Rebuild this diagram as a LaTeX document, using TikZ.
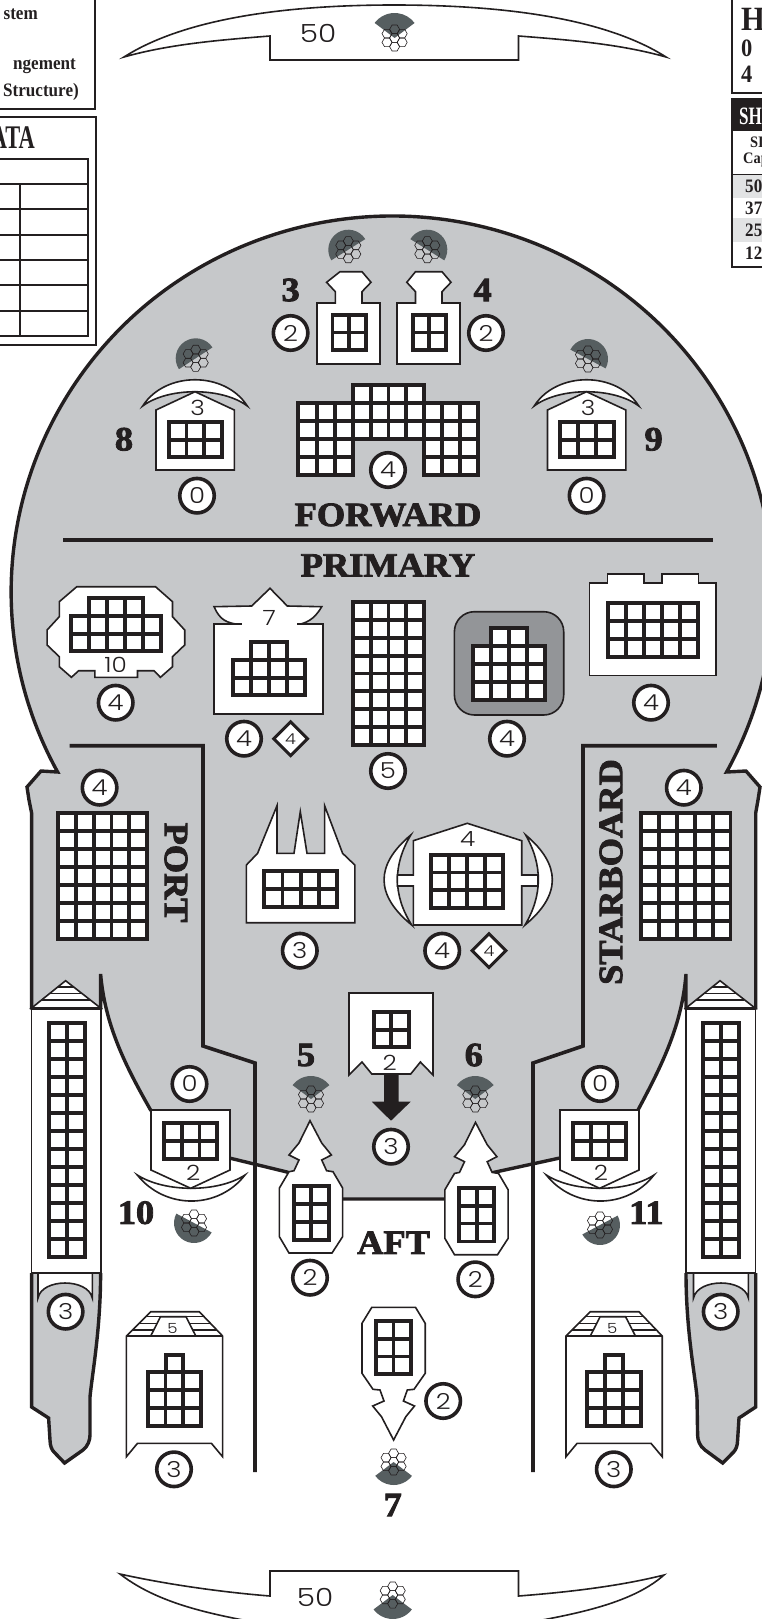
\documentclass[tikz,border=0pt]{standalone}
\usepackage{fontspec}
\usepackage{tikz}
\usetikzlibrary{arrows.meta,shapes.geometric,positioning,calc}
\newfontfamily\heavyfont[FakeStretch=1.07,BoldFeatures={FakeBold=2.5}]{Liberation Serif}
\newfontfamily\slabfont[FakeStretch=0.9]{Liberation Serif}
\newfontfamily\narrowfont[FakeStretch=0.68]{Liberation Serif}
\newfontfamily\digitfont[FakeStretch=1.18,UprightFont=* Light]{Poppins}
\definecolor{ink}{HTML}{231F20}
\definecolor{hullgray}{HTML}{C6C8CA}
\definecolor{arcgray}{HTML}{565E60}
\definecolor{bridgegray}{HTML}{939598}
\tikzset{
  hull/.style={draw=ink,line width=3.4pt,fill=hullgray,line join=miter},
  wall/.style={draw=ink,line width=3.6pt},
  plate/.style={draw=ink,line width=1.6pt,fill=white,line join=miter},
  cell/.style={draw=ink,line width=3.9pt,fill=white},
  frame/.style={draw=ink,line width=2.6pt},
  badge/.style={circle,draw=ink,line width=3.6pt,fill=white,minimum size=34.5pt,inner sep=0pt,
    font=\digitfont\fontsize{22}{22}\selectfont,text=ink},
  armor/.style={diamond,draw=ink,line width=3pt,fill=white,minimum size=35pt,inner sep=0pt,
    font=\digitfont\fontsize{15}{15}\selectfont,text=ink},
  plabel/.style={font=\digitfont\fontsize{21}{21}\selectfont,text=ink,inner sep=0pt},
  bignum/.style={font=\heavyfont\bfseries\fontsize{34}{34}\selectfont,text=ink,inner sep=0pt},
  secname/.style={font=\heavyfont\bfseries\fontsize{34}{34}\selectfont,text=ink,inner sep=0pt},
  sheet/.style={font=\slabfont\bfseries\fontsize{19}{19}\selectfont,text=ink,inner sep=0pt}
}
% left, top, right, bottom (outer edges), columns, rows
\newcommand{\boxgrid}[6]{%
  \pgfmathsetmacro{\gl}{#1}%
  \pgfmathsetmacro{\gt}{#2}%
  \pgfmathsetmacro{\gw}{((#3)-(#1)-3.9)/#5}%
  \pgfmathsetmacro{\gh}{((#4)-(#2)-3.9)/#6}%
  \foreach \c in {1,...,#5} \foreach \r in {1,...,#6} {
    \draw[cell] ({\gl+1.95+(\c-1)*\gw},{\gt+1.95+(\r-1)*\gh}) rectangle ++(\gw,\gh);
  }
}
% centre x, centre y, middle angle, half width, radius
\newcommand{\firearc}[5]{%
  \fill[arcgray] (#1,#2) -- ++({#3-#4}:#5) arc[start angle={#3-#4},end angle={#3+#4},radius=#5] -- cycle;
  \foreach \dx/\dy in {0/0,0/-8.7,0/8.7,7.6/-4.35,7.6/4.35,-7.6/-4.35,-7.6/4.35} {
    \draw[ink,line width=0.6pt,shift={(#1+\dx,#2+\dy)}] (0:5) -- (60:5) -- (120:5) -- (180:5) -- (240:5) -- (300:5) -- cycle;
  }
}
\begin{document}
\begin{tikzpicture}[x=1pt,y=-1pt]
\useasboundingbox (0,0) rectangle (762,1619);
\clip (0,0) rectangle (762,1619);
% Record sheet edges
\draw[frame] (-5,-5) rectangle (95,109);
\draw[frame] (-5,117) rectangle (96,345);
\node[sheet,anchor=east] (sysa) at (38,14) {stem};
\node[sheet,anchor=east] (sysb) at (76,66) {ngement};
\node[sheet,anchor=east] (sysc) at (79,92) {Structure)};
\node[sheet,anchor=east,font=\narrowfont\bfseries\fontsize{33}{33}\selectfont] (data) at (35,138) {ATA};
\draw[ink,line width=2.4pt] (-5,159) -- (88,159) -- (88,336) -- (-5,336);
\foreach \y in {184,209,235,260,285,311} {
  \draw[ink,line width=2.4pt] (-5,\y) -- (88,\y);
}
\draw[ink,line width=2.4pt] (20,184) -- (20,336);
\fill[hullgray!50] (733,174) rectangle (770,198);
\fill[hullgray!50] (733,218) rectangle (770,242);
\draw[frame] (732,-5) -- (732,93) -- (770,93);
\draw[frame] (732,99) rectangle (770,267);
\fill[ink] (732,99) rectangle (770,131);
\draw[ink,line width=1pt] (732,174) -- (770,174);
\node[sheet,anchor=west,font=\slabfont\bfseries\fontsize{34}{34}\selectfont] (hname) at (741,19) {H};
\node[sheet,anchor=west,font=\slabfont\bfseries\fontsize{25}{25}\selectfont] (hzero) at (741,48) {0};
\node[sheet,anchor=west,font=\slabfont\bfseries\fontsize{25}{25}\selectfont] (hfour) at (741,74) {4};
\node[sheet,anchor=west,text=white,font=\narrowfont\bfseries\fontsize{25}{25}\selectfont] (shd) at (739,116) {SH};
\node[sheet,anchor=west,font=\slabfont\bfseries\fontsize{16}{16}\selectfont] (shs) at (750,142) {SI};
\node[sheet,anchor=west,font=\slabfont\bfseries\fontsize{16}{16}\selectfont] (shc) at (743,160) {Cap};
\foreach \n/\y in {50/186,37/208,25/230,12/253} {
  \node[sheet,anchor=west] (row\n) at (745,\y) {\n};
}
% Top and bottom bars
\draw[plate] (124,57) .. controls (190,15) and (300,5) .. (394,5) .. controls (490,5) and (600,15) .. (666,57)
  .. controls (620,44) and (570,40) .. (518.5,36) -- (518.5,60) -- (270,60) -- (270,36) .. controls (220,40) and (170,44) .. (124,57) -- cycle;
\node[plabel,font=\digitfont\fontsize{25}{25}\selectfont] (foretxt) at (318,33) {50};
\firearc{394.6}{38}{-90}{53}{25}
\draw[plate] (120,1574) .. controls (165,1584) and (220,1592) .. (270,1596) -- (270,1571) -- (518.5,1571) -- (518.5,1596)
  .. controls (570,1592) and (620,1586) .. (664,1575) .. controls (630,1605) and (570,1615) .. (515,1625)
  -- (270,1625) .. controls (215,1615) and (160,1605) .. (120,1574) -- cycle;
\node[plabel,font=\digitfont\fontsize{25}{25}\selectfont] (afttxt) at (315,1597) {50};
\firearc{392.7}{1595}{90}{53}{24}
% Hull
\draw[hull] (41,771) -- (27,787) -- (29,800) -- (31.6,813) -- (31.6,1008) -- (100.6,1008) -- (100.6,974)
  .. controls (105,1025) and (125,1065) .. (150.6,1110) -- (229.4,1158) -- (287,1172) -- (342.6,1199) -- (444.7,1199)
  -- (492.3,1172.7) -- (559.8,1158) -- (638,1110) .. controls (662,1065) and (682,1025) .. (686,974)
  -- (686,1008) -- (755.7,1008) -- (755.7,813) -- (758,800) -- (760,787) -- (746,771) -- (726.6,772)
  arc[start angle=28.6,end angle=-208.6,x radius=381,y radius=376] -- cycle;
% Section walls
\draw[wall] (63,540) -- (713,540);
\draw[wall] (69.5,745.7) -- (203,745.7) -- (203,1046) -- (255,1063) -- (255,1472);
\draw[wall] (716.8,745.7) -- (583,745.7) -- (583,1046) -- (533,1063) -- (533,1472);
% Nacelle tails
\draw[hull] (31.6,1273) -- (31.6,1407) -- (48.6,1418) -- (50,1440) .. controls (50,1446) and (52,1450) .. (54,1452)
  -- (64.6,1463) -- (83,1450) .. controls (88,1446) and (90,1440) .. (90,1435) -- (90,1397) .. controls (92,1375) and (100.6,1330) .. (100.6,1273);
\draw[hull] (755.7,1273) -- (755.7,1407) -- (739,1418) -- (737.6,1440) .. controls (737.6,1446) and (735.6,1450) .. (733.6,1452)
  -- (722.7,1463) -- (705,1450) .. controls (699.6,1446) and (697.6,1440) .. (697.6,1435) -- (697,1397) .. controls (695,1375) and (686,1330) .. (686,1273);
\draw[plate] (38,1272) -- (38,1298) .. controls (42,1278) and (88,1278) .. (92.3,1298) -- (92.3,1272);
\draw[plate] (693.5,1272) -- (693.5,1298) .. controls (698,1278) and (744,1278) .. (748.4,1298) -- (748.4,1272);
% Nacelles
\foreach \nx/\gx in {31.6/47,686/701.3} {
  \begin{scope}[shift={(\nx,0)}]
    \draw[plate] (0,1008) -- (34,980.7) -- (69,1008) -- cycle;
    \draw[ink,line width=1.2pt] (26,987) -- (42,987) (18,993.5) -- (50,993.5) (10,1000) -- (58,1000);
    \draw[plate] (0,1008.5) rectangle (69.4,1273);
    \draw[ink,line width=2.4pt] (0,1008.5) -- (69.4,1008.5);
  \end{scope}
  \boxgrid{\gx}{1021}{\gx+39.5}{1259}{2}{13}
}
% Forward section
\firearc{348.3}{249.7}{-122}{90}{20}
\firearc{427.3}{249.7}{-58}{90}{20}
\draw[plate] (317,303) -- (335.3,303) -- (335.3,291.7) -- (326.6,282.3) -- (340,271.7) -- (362,271.7) -- (371,282.3) -- (362,291.7) -- (362,303) -- (380,303) -- (380,364) -- (317,364) -- cycle;
\draw[plate] (397,303) -- (415.5,303) -- (415.5,291.7) -- (406.8,282.3) -- (415.5,271.7) -- (442,271.7) -- (451,282.3) -- (442,291.7) -- (442,303) -- (460,303) -- (460,364) -- (397,364) -- cycle;
\boxgrid{330.5}{313}{368}{352}{2}{2}
\boxgrid{410.7}{313}{448}{352}{2}{2}
\boxgrid{296.4}{400.7}{354.9}{476.7}{3}{4}
\boxgrid{422.1}{400.7}{480}{476.7}{3}{4}
\boxgrid{351}{383.3}{426}{440.65}{4}{3}
\firearc{195.7}{358.3}{-123}{90}{20}
\firearc{588}{359}{-62}{90}{20}
\foreach \dx in {0,391.5} {
  \begin{scope}[shift={(\dx,0)}]
    \draw[plate] (142.7,406) .. controls (165,371) and (225,371) .. (247.3,406) .. controls (222,387) and (168,387) .. (142.7,406) -- cycle;
    \draw[plate] (156,410) -- (195,391.7) -- (234.3,410) -- (234.3,470) -- (156,470) -- cycle;
  \end{scope}
  \boxgrid{166.7+\dx}{420}{224+\dx}{459.3}{3}{2}
}
\node[plabel] (fwd8) at (197.7,407.5) {3};
\node[plabel] (fwd9) at (588,407.5) {3};
% Primary section
\draw[plate] (76.8,586.7) -- (155.5,586.7) -- (172.5,601.7) -- (172.5,616.7) -- (184.7,630) -- (184.7,645) -- (172.5,656.7) -- (172.5,666.7) -- (160.4,677.3) -- (154,670.7) -- (137.5,670.7) -- (137.5,677.3) -- (94.8,677.3) -- (94.8,670.7) -- (78.7,670.7) -- (71.4,677.3) -- (59.3,666.7) -- (59.3,656.7) -- (47.1,645) -- (47.1,630) -- (59.3,616.7) -- (59.3,601.7) -- cycle;
\boxgrid{87}{595.7}{144.9}{617.9}{3}{1}
\boxgrid{69}{614}{162.8}{653.3}{5}{2}
\node[plabel] (pri10) at (115.7,665) {10};
\draw[plate] (214,606.7) -- (251.7,606) -- (270,588.3) -- (287.3,606) -- (321.7,606.7) .. controls (314,620) and (306,623) .. (296.7,625) -- (241.7,625) .. controls (226,623) and (220,620) .. (214,606.7) -- cycle;
\fill[white] (214,624) rectangle (322.7,714);
\draw[plate] (241.7,624) -- (214,624) -- (214,714) -- (322.7,714) -- (322.7,624) -- (296.7,624);
\node[plabel] (pri7) at (269.3,617.5) {7};
\boxgrid{248.75}{640}{288.65}{662.2}{2}{1}
\boxgrid{230.7}{658.3}{306.7}{697.3}{4}{2}
\boxgrid{351}{600}{426}{747}{4}{8}
\draw[plate,fill=bridgegray,rounded corners=20pt] (454.4,611.7) rectangle (563.7,715);
\boxgrid{489.25}{626}{528.85}{648.2}{2}{1}
\boxgrid{471.4}{644.3}{546.7}{701.7}{4}{3}
\draw[plate] (589.5,582.7) -- (607.5,582.7) -- (607.5,573.7) -- (643.9,573.7) -- (643.9,583) -- (661.9,583) -- (661.9,573.7) -- (698.4,573.7) -- (698.4,582.7) -- (715.8,582.7) -- (715.8,675.3) -- (589.5,675.3) -- cycle;
\boxgrid{606}{601}{699.8}{659}{5}{3}
% Port and starboard arrays
\boxgrid{55.9}{811}{149.2}{940.7}{5}{7}
\boxgrid{639}{811}{732.4}{940.7}{5}{7}
% Middle boxes
\draw[plate] (246.4,922.7) -- (354.8,922.7) -- (354.8,865) -- (342.6,853.3) -- (324.6,805.7) -- (324.6,853.3) -- (307,853.3) -- (300.3,811.7) -- (294,853.3) -- (277,853.3) -- (277,805.7) -- (257.6,853.3) -- (246.4,865) -- cycle;
\boxgrid{262.4}{869.3}{338.7}{909.3}{4}{2}
\draw[plate] (410.8,835) .. controls (375,865) and (375,895) .. (411.7,925) .. controls (392.8,895) and (392.8,865) .. (410.8,835) -- cycle;
\draw[plate] (525.7,835) .. controls (561.3,865) and (561.3,895) .. (525,925) .. controls (542.7,895) and (542.7,865) .. (525.7,835) -- cycle;
\draw[plate] (413.3,840.7) -- (467.3,823.3) -- (521.7,840.7) -- (521.7,875) -- (538,875) -- (538,886) -- (521.7,886) -- (521.7,925) -- (413.3,925) -- (413.3,886) -- (397.3,886) -- (397.3,875) -- (413.3,875) -- cycle;
\boxgrid{429.3}{852.7}{505}{910}{4}{3}
\node[plabel] (mid4) at (467.7,839.5) {4};
% Aft facing box with arrow
\draw[plate] (349,993) -- (433,993) -- (433,1075) -- (420.4,1062) -- (410.7,1074) -- (371.8,1074) -- (362,1062) -- (349,1075) -- cycle;
\boxgrid{371.8}{1010}{410.7}{1049.3}{2}{2}
\node[plabel] (aft2) at (389.8,1063) {2};
\fill[ink] (384,1074) -- (398.5,1074) -- (398.5,1101.7) -- (410.7,1101.7) -- (391,1120.7) -- (371.8,1101.7) -- (384,1101.7) -- cycle;
% Side boxes 10 and 11
\foreach \dx/\ex in {0/0,409/409} {
  \begin{scope}[shift={(\dx,0)}]
    \draw[plate] (137.3,1175) .. controls (165,1192.7) and (218,1192.7) .. (245,1175) .. controls (218,1209.7) and (165,1209.7) .. (137.3,1175) -- cycle;
    \draw[plate] (151,1110) -- (230,1110) -- (230,1170) -- (190.7,1188.3) -- (151,1170) -- cycle;
  \end{scope}
  \boxgrid{161.7+\ex}{1120.7}{219.3+\ex}{1160.7}{3}{2}
}
\node[plabel] (side10) at (193.3,1172.5) {2};
\node[plabel] (side11) at (601,1173) {2};
\firearc{194}{1223}{118}{90}{20}
\firearc{600}{1225}{62}{90}{20}
% Aft section
\firearc{311}{1099}{-90}{53}{23}
\firearc{475.3}{1099}{-90}{53}{23}
\firearc{393.6}{1462}{90}{53}{23}
\foreach \dx/\dy in {0/0,165.5/1.7} {
  \begin{scope}[shift={(\dx,\dy)}]
    \draw[plate] (310,1120.7) -- (321.7,1143) -- (331.4,1155) -- (321.7,1160) -- (326.6,1170.7) -- (333,1171.7) -- (342.6,1188) -- (342.6,1236.7) -- (332,1253) -- (289,1253) -- (279.4,1236.7) -- (279.4,1188) -- (289,1171.7) -- (294,1170.7) -- (299,1160) -- (289,1155) -- (299,1143) -- cycle;
  \end{scope}
  \boxgrid{291.6+\dx}{1184+\dy}{330.5+\dx}{1241.7+\dy}{2}{3}
}
\draw[plate] (371.8,1307.3) -- (415.5,1307.3) -- (425.2,1323.3) -- (425.2,1373.3) -- (414,1389.3) -- (407.3,1390) -- (403.4,1401) -- (414.5,1406) -- (405.8,1416.7) -- (393.6,1440) -- (381.5,1416.7) -- (372.7,1406) -- (384,1401) -- (380,1390) -- (373,1389.3) -- (362,1373.3) -- (362,1323.3) -- cycle;
\boxgrid{374}{1319.3}{413}{1376}{2}{3}
% Lower boxes
\foreach \dx in {0,439.6} {
  \begin{scope}[shift={(\dx,0)}]
    \draw[plate] (126.4,1336) -- (150.7,1311.7) -- (199.3,1311.7) -- (222.6,1336) -- (222.6,1456.7) -- (211.4,1443.3) -- (137.5,1443.3) -- (126.4,1456.7) -- cycle;
    \draw[plate] (126.4,1336) -- (222.6,1336);
    \draw[ink,line width=1.4pt] (145.7,1316.7) -- (204,1316.7) (139.4,1323.5) -- (210.5,1323.5) (132.4,1330) -- (216.7,1330);
    \draw[plate] (160.5,1316.7) -- (186,1316.7) -- (195.8,1336) -- (150.7,1336) -- cycle;
  \end{scope}
  \boxgrid{163.6+\dx}{1352.7}{185.3+\dx}{1373.9}{1}{1}
  \boxgrid{145.8+\dx}{1370}{203+\dx}{1427.7}{3}{3}
}
\node[plabel,font=\digitfont\fontsize{14}{14}\selectfont] (low5a) at (172.5,1328) {5};
\node[plabel,font=\digitfont\fontsize{14}{14}\selectfont] (low5b) at (612.3,1328) {5};
% Damage circles
\foreach \n/\x/\y/\t in {a/290.6/333/2,b/486/333/2,c/388/470/4,d/197/495.7/0,e/586.6/495.7/0,f/115.7/702.7/4,g/244/738.7/4,h/388/771/5,i/507/738.7/4,j/651/702.7/4,k/99.6/787.7/4,l/683.8/787.7/4,m/299.8/950.7/3,n/442.2/950.7/4,o/391/1146.7/3,p/189.5/1084/0,q/600/1084/0,r/310/1277.7/2,s/475.3/1279.3/2,t/65.6/1311.7/3,u/720.7/1311.7/3,v/443.2/1401/2,w/174/1469.3/3,x/613.8/1469.3/3} {
  \node[badge] (dmg\n) at (\x,\y) {\t};
}
\node[armor] (arma) at (290.6,738.7) {4};
\node[armor] (armb) at (489,950.7) {4};
% Weapon numbers
\foreach \n/\x/\y in {3/290.6/290,4/482.6/290,8/124/439.3,9/653.6/439.3,5/306/1055,6/473.8/1055,10/136/1212.7,11/646.4/1212.7,7/392.7/1505} {
  \node[bignum] (wpn\n) at (\x,\y) {\n};
}
% Section names
\node[secname] (forward) at (388,515) {FORWARD};
\node[secname] (primary) at (388,565.3) {PRIMARY};
\node[secname] (aft) at (393.6,1242.7) {AFT};
\node[secname,rotate=-90] (port) at (176,872.5) {PORT};
\node[secname,rotate=90] (starboard) at (611,872) {STARBOARD};
\end{tikzpicture}
\end{document}
